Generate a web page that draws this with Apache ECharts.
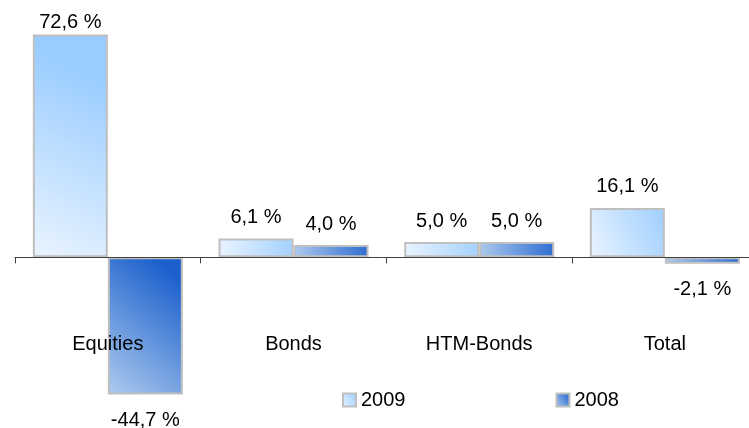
<!DOCTYPE html>
<html>
<head>
<meta charset="utf-8">
<script src="https://cdn.jsdelivr.net/npm/echarts@6/dist/echarts.min.js"></script>
<style>
html,body{margin:0;padding:0;background:#fff;}
#c{width:749px;height:428px;}
</style>
</head>
<body>
<div id="c"></div>
<script>
const categories = ['Equities', 'Bonds', 'HTM-Bonds', 'Total'];
const values2009 = [72.6, 6.1, 5.0, 16.1];
const values2008 = [-44.7, 4.0, 5.0, -2.1];
const seriesNames = ['2009', '2008'];

const FONT = '"Liberation Sans", Arial, sans-serif';

function grad(light, dark) {
  return new echarts.graphic.LinearGradient(0, 1, 1.15, 0.23, [
    { offset: 0, color: light },
    { offset: 1, color: dark }
  ]);
}
const fill2009 = grad('#eaf4ff', '#99ccff');
const fill2008 = grad('#aecbee', '#1a5fcc');

function fmt(v) {
  return v.toFixed(1).replace('.', ',') + ' %';
}
function buildData(vals) {
  return vals.map(v => ({
    value: v,
    label: {
      position: v < 0 ? 'bottom' : 'top',
      distance: v > 70 ? 2 : (v < 0 ? 16 : 11)
    }
  }));
}

const chart = echarts.init(document.getElementById('c'));
chart.setOption({
  animation: false,
  backgroundColor: '#ffffff',
  grid: { left: 15, right: -8.7, top: 11.8, bottom: 17.2, containLabel: false, outerBoundsMode: 'none' },
  legend: {
    data: seriesNames,
    left: 337,
    top: 385,
    itemWidth: 13,
    itemHeight: 13,
    itemGap: 150,
    icon: 'rect',
    textStyle: { fontFamily: FONT, fontSize: 20, color: '#000' },
    itemStyle: { borderColor: '#bfbfbf', borderWidth: 2 }
  },
  xAxis: {
    type: 'category',
    data: categories,
    z: 10,
    axisLine: { onZero: true, lineStyle: { color: '#404040', width: 1 } },
    axisTick: { show: true, length: 6, alignWithLabel: false, lineStyle: { color: '#404040' } },
    axisLabel: { show: true, interval: 0, hideOverlap: false, margin: -76, fontFamily: FONT, fontSize: 20, color: '#000' }
  },
  yAxis: {
    type: 'value',
    min: -50,
    max: 80,
    show: false,
    splitLine: { show: false }
  },
  series: [
    {
      name: seriesNames[0],
      type: 'bar',
      barWidth: 75,
      barGap: '0%',
      data: buildData(values2009),
      itemStyle: { color: fill2009, borderColor: '#bfbfbf', borderWidth: 2 },
      label: { show: true, fontFamily: FONT, fontSize: 20, color: '#000', formatter: p => fmt(p.value) }
    },
    {
      name: seriesNames[1],
      type: 'bar',
      barWidth: 75,
      barGap: '0%',
      data: buildData(values2008),
      itemStyle: { color: fill2008, borderColor: '#bfbfbf', borderWidth: 2 },
      label: { show: true, fontFamily: FONT, fontSize: 20, color: '#000', formatter: p => fmt(p.value) }
    }
  ]
});
</script>
</body>
</html>
